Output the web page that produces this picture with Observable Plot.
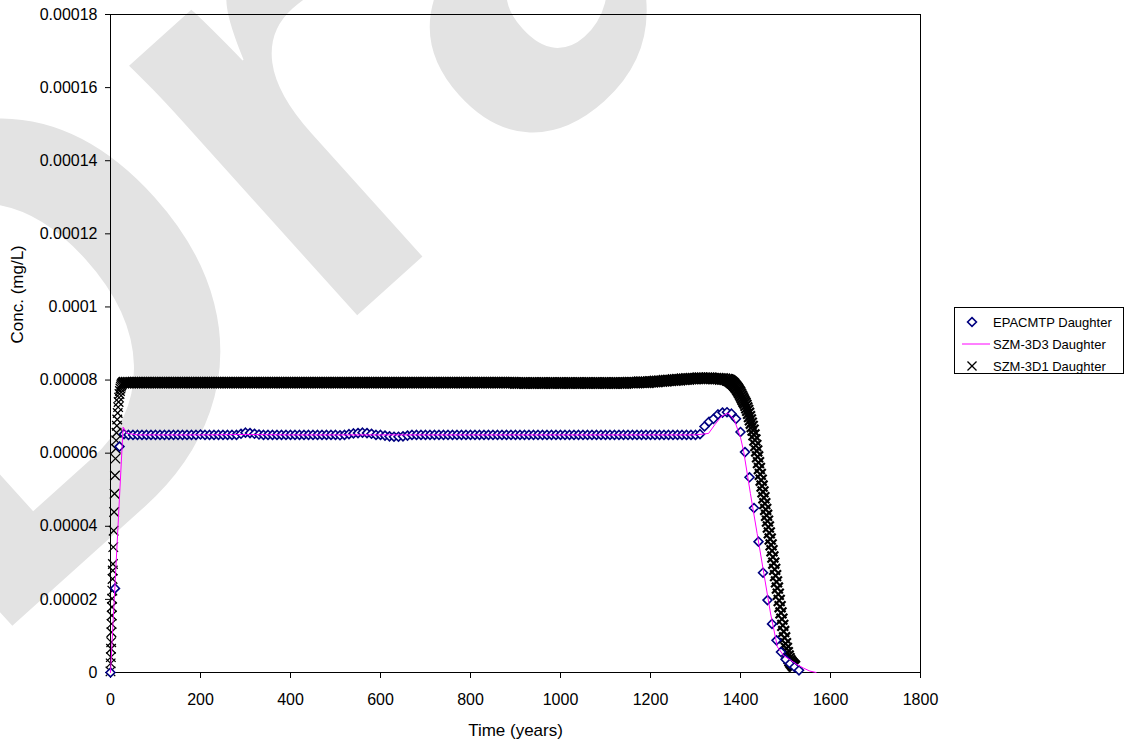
<!DOCTYPE html>
<html>
<head>
<meta charset="utf-8">
<script src="https://cdn.jsdelivr.net/npm/d3@7"></script>
<script src="https://cdn.jsdelivr.net/npm/@observablehq/plot@0.6"></script>
<style>
  html, body { margin: 0; padding: 0; background: #fff; }
  #wrap { position: relative; width: 1127px; height: 742px; }
  #legend { position: absolute; left: 0; top: 0; }
</style>
</head>
<body>
<div id="wrap"></div>
<script>
// Concentrations are kept in units of 1e-6 mg/L and converted when the table is built.

// EPACMTP Daughter: model output every 10 years starting at year 0
const epaStart = 0, epaStep = 10;
const epaConc = [
  0, 23.0, 61.8, 65.2,
  65.0, 65.0, 65.0, 65.0, 65.0, 65.0, 65.0, 65.0, 65.0, 65.0, 65.0, 65.0, 65.0, 65.0, 65.0, 65.0,
  65.1,
  65.0, 65.0, 65.0, 65.0, 65.0, 65.0, 65.0, 65.0,
  65.3, 65.6, 65.5, 65.3, 65.1,
  65.0, 65.0, 65.0, 65.0, 65.0, 65.0, 65.0, 65.0, 65.0, 65.0, 65.0, 65.0, 65.0, 65.0, 65.0, 65.0, 65.0,
  64.9, 65.0, 65.2, 65.4, 65.5, 65.6, 65.5, 65.3,
  65.0, 65.0, 64.8, 64.6, 64.5, 64.5, 64.6, 64.8, 65.0,
  65.0, 65.0, 65.0, 65.0, 65.0, 65.0, 65.0, 65.0, 65.0, 65.0, 65.0, 65.0, 65.0, 65.0, 65.0, 65.0,
  65.0, 65.0, 65.0, 65.0, 65.0, 65.0, 65.0, 65.0, 65.0, 65.0, 65.0, 65.0, 65.0, 65.0, 65.0, 65.0,
  65.0, 65.0, 65.0, 65.0, 65.0, 65.0, 65.0, 65.0, 65.0, 65.0, 65.0, 65.0, 65.0, 65.0, 65.0, 65.0,
  65.0, 65.0, 65.0, 65.0, 65.0, 65.0, 65.0, 65.0, 65.0, 65.0, 65.0, 65.0, 65.0, 65.0, 65.0,
  65.2, 67.3, 68.6, 69.4, 70.6, 71.1, 71.2, 70.8, 69.4, 65.8, 60.3, 53.4,
  45.0, 35.8, 27.3, 19.8, 13.3, 8.8, 5.6, 3.6, 2.4, 1.5, 0.6
];

// SZM-3D3 Daughter: line through the reported output times
const szm3Time = [0, 28, 37, 60, 100, 200, 300, 400, 500, 600, 700, 800, 900, 1000, 1100, 1200, 1300,
  1329, 1343, 1357, 1372, 1386, 1400, 1407, 1422, 1437, 1452, 1467, 1482, 1496, 1511, 1525, 1540, 1554, 1568];
const szm3Conc = [0, 67.1, 65.4, 65.0, 65.0, 65.0, 65.1, 65.0, 65.0, 65.0, 65.0, 65.0, 65.0, 65.0, 65.0, 65.0, 65.0,
  65.4, 67.8, 70.0, 71.0, 69.2, 64.3, 60.5, 49.0, 38.0, 27.0, 16.0, 7.0, 4.6, 3.4, 2.2, 1.2, 0.4, 0];

// SZM-3D1 Daughter: early breakthrough (fine time steps)
const szm1RiseTime = [0, 0.4, 0.8, 1.2, 1.6, 2.0, 2.4, 2.8, 3.2, 3.6, 4.0, 4.6, 5.0, 5.4, 6.2, 7.0, 8.0, 9.0, 10.0,
  11.0, 11.8, 12.6, 13.4, 14.2, 15.0, 16.0, 17.0, 18.0, 19.0, 20.0, 21.0, 22.0, 23.0, 24.0, 25.0, 26.0, 27.0];
const szm1RiseConc = [0.3, 2.5, 4.2, 6.5, 8.3, 11.0, 13.3, 15.6, 17.9, 20.2, 22.4, 25.6, 27.9, 29.7, 34.3, 38.8, 43.9, 48.9, 53.9,
  58.5, 61.2, 63.5, 65.6, 67.5, 69.2, 71.0, 72.6, 74.0, 75.2, 76.2, 77.0, 77.7, 78.2, 78.6, 78.9, 79.1, 79.2];

// SZM-3D1 Daughter: plateau, output every 5 years from year 30 to 1370
const szm1FlatStart = 30, szm1FlatStep = 5;
const szm1FlatConc = [
  79.3, 79.3, 79.3, 79.3, 79.3, 79.3, 79.3, 79.3, 79.3, 79.3, 79.3, 79.3, 79.3, 79.3, 79.3, 79.3, 79.3, 79.3, 79.3, 79.3,
  79.3, 79.3, 79.3, 79.3, 79.3, 79.3, 79.3, 79.3, 79.3, 79.3, 79.3, 79.3, 79.3, 79.3, 79.3, 79.3, 79.3, 79.3, 79.3, 79.3,
  79.3, 79.3, 79.3, 79.3, 79.3, 79.3, 79.3, 79.3, 79.3, 79.3, 79.3, 79.3, 79.3, 79.3, 79.3, 79.3, 79.3, 79.3, 79.3, 79.3,
  79.3, 79.3, 79.3, 79.3, 79.3, 79.3, 79.3, 79.3, 79.3, 79.3, 79.3, 79.3, 79.3, 79.3, 79.3, 79.3, 79.3, 79.3, 79.3, 79.3,
  79.3, 79.3, 79.3, 79.3, 79.3, 79.3, 79.3, 79.3, 79.3, 79.3, 79.3, 79.3, 79.3, 79.3, 79.3, 79.3, 79.3, 79.3, 79.3, 79.3,
  79.3, 79.3, 79.3, 79.3, 79.3, 79.3, 79.3, 79.3, 79.3, 79.3, 79.3, 79.3, 79.3, 79.3, 79.3, 79.3, 79.3, 79.3, 79.3, 79.3,
  79.3, 79.3, 79.3, 79.3, 79.3, 79.3, 79.3, 79.3, 79.3, 79.3, 79.3, 79.3, 79.3, 79.3, 79.3, 79.3, 79.3, 79.3, 79.3, 79.3,
  79.3, 79.3, 79.3, 79.3, 79.3, 79.3, 79.3, 79.3, 79.3, 79.3, 79.3, 79.3, 79.3, 79.3, 79.3, 79.3, 79.3, 79.3, 79.3, 79.3,
  79.3, 79.3, 79.3, 79.3, 79.3, 79.3, 79.3, 79.3, 79.3, 79.3, 79.3, 79.3, 79.3, 79.3,
  79.2, 79.2, 79.2, 79.2, 79.2, 79.2, 79.2, 79.2, 79.2, 79.2, 79.2, 79.2, 79.2, 79.2, 79.2, 79.2, 79.2, 79.2, 79.2, 79.2,
  79.2, 79.2, 79.2, 79.2, 79.2, 79.2, 79.2, 79.2, 79.2, 79.2, 79.2, 79.2, 79.2, 79.2, 79.2, 79.2, 79.2, 79.2, 79.2, 79.2,
  79.2, 79.2, 79.2, 79.2, 79.2, 79.2, 79.2, 79.2, 79.2, 79.2,
  79.3, 79.3, 79.3, 79.3, 79.3, 79.4, 79.4, 79.4, 79.4, 79.4,
  79.5, 79.5, 79.6, 79.6, 79.7, 79.7, 79.8, 79.8, 79.9, 79.9, 80.0, 80.0, 80.1, 80.1, 80.2, 80.2, 80.3, 80.3,
  80.4, 80.4, 80.4, 80.5, 80.5, 80.5, 80.5, 80.5, 80.5, 80.5, 80.4, 80.4, 80.4, 80.3, 80.3, 80.2, 80.1
];

// SZM-3D1 Daughter: decline, output every 2 years
const szm1FallTime = [1372, 1374, 1376, 1378, 1380, 1382, 1384, 1386, 1388, 1390, 1392, 1394, 1396, 1398, 1400,
  1402, 1404, 1406, 1408, 1410, 1412, 1414, 1416, 1418, 1420, 1422, 1424, 1426, 1428, 1430, 1432, 1434, 1436,
  1438, 1440, 1442, 1444, 1446, 1448, 1450, 1452, 1454, 1456, 1458, 1460, 1462, 1464, 1466, 1468, 1470, 1472,
  1474, 1476, 1478, 1480, 1482, 1484, 1486, 1488, 1490, 1492, 1494, 1496, 1498, 1500, 1502, 1504, 1506, 1508,
  1510, 1512, 1514, 1516, 1518, 1520];
const szm1FallConc = [80.0, 79.9, 79.8, 79.6, 79.4, 79.2, 79.0, 78.7, 78.4, 78.1, 77.8, 77.4, 77.0, 76.6, 76.1,
  75.6, 75.1, 74.6, 74.1, 73.7, 73.1, 72.4, 71.7, 70.9, 70.0, 69.1, 68.2, 67.3, 66.3, 65.0, 63.6, 62.1, 60.6,
  59.0, 57.4, 55.8, 54.2, 52.6, 51.0, 49.4, 47.8, 46.2, 44.6, 43.0, 41.4, 39.8, 38.2, 36.5, 34.9, 33.3, 31.6,
  29.9, 28.2, 26.5, 24.8, 23.1, 21.4, 19.7, 18.0, 16.3, 14.6, 12.9, 11.2, 9.5, 7.9, 6.6, 5.4, 4.5, 3.8,
  3.2, 2.8, 2.5, 2.2, 1.9, 1.7];

// Axes
const xTicks = [0, 200, 400, 600, 800, 1000, 1200, 1400, 1600, 1800];
const yTicks = [0, 0.00002, 0.00004, 0.00006, 0.00008, 0.0001, 0.00012, 0.00014, 0.00016, 0.00018];
const yTickLabels = ["0", "0.00002", "0.00004", "0.00006", "0.00008", "0.0001", "0.00012", "0.00014", "0.00016", "0.00018"];

const seriesNames = ["EPACMTP Daughter", "SZM-3D3 Daughter", "SZM-3D1 Daughter"];
const navy = "#000080", magenta = "#ff00ff", black = "#000000";
const font = "'Liberation Sans', Arial, Helvetica, sans-serif";

// Tables
const unit = 1e-6;
const epa = epaConc.map((c, i) => ({t: epaStart + i * epaStep, c: c * unit}));
const szm3 = szm3Time.map((t, i) => ({t, c: szm3Conc[i] * unit}));
const szm1Rise = szm1RiseTime.map((t, i) => ({t, c: szm1RiseConc[i] * unit}));
const szm1Band = [
  ...szm1FlatConc.map((c, i) => ({t: szm1FlatStart + i * szm1FlatStep, c: c * unit})),
  ...szm1FallTime.map((t, i) => ({t, c: szm1FallConc[i] * unit}))
];

const chart = Plot.plot({
  width: 1127,
  height: 742,
  marginLeft: 110,
  marginRight: 207,
  marginTop: 14,
  marginBottom: 70,
  style: {fontFamily: font, fontSize: "16px", color: "#000", background: "transparent"},
  x: {domain: [0, 1800]},
  y: {domain: [0, 0.00018]},
  marks: [
    // "Draft" watermark behind the data
    Plot.text(["Draft"], {
      frameAnchor: "top-left", dx: -130, dy: 640, rotate: -42,
      text: d => d, fontSize: 640, fontWeight: "bold", fill: "#e3e3e3",
      textAnchor: "start", lineAnchor: "bottom"
    }),
    Plot.frame({stroke: black, strokeWidth: 1}),
    Plot.axisX({ticks: xTicks, tickSize: 6, tickPadding: 15, tickFormat: d => String(d), label: null, stroke: black}),
    Plot.axisY({ticks: yTicks, tickSize: 5, tickPadding: 8, tickFormat: (d, i) => yTickLabels[i], label: null, stroke: black}),
    Plot.text(["Time (years)"], {frameAnchor: "bottom", dy: 63, text: d => d, lineAnchor: "bottom", fontSize: 17, fill: black}),
    Plot.text(["Conc. (mg/L)"], {
      frameAnchor: "left", dx: -88, rotate: -90, text: d => d, lineAnchor: "bottom", fontSize: 17,
      fill: black, stroke: "white", strokeWidth: 7
    }),
    Plot.dot(szm1Rise, {x: "t", y: "c", symbol: "times", r: 4.4, stroke: black, strokeWidth: 1.3}),
    Plot.dot(szm1Band, {x: "t", y: "c", symbol: "times", r: 5, stroke: black, strokeWidth: 2.2}),
    Plot.dot(epa, {x: "t", y: "c", symbol: "diamond2", r: 4, stroke: navy, fill: "white", strokeWidth: 1.6}),
    Plot.line(szm3, {x: "t", y: "c", stroke: magenta, strokeWidth: 1})
  ]
});

const wrap = document.getElementById("wrap");
wrap.appendChild(chart);

// Legend box on the right
const legend = d3.create("svg")
  .attr("id", "legend")
  .attr("width", 1127).attr("height", 742)
  .style("font-family", font);
const lg = legend.append("g");
lg.append("rect").attr("x", 954.5).attr("y", 307.5).attr("width", 169).attr("height", 66)
  .attr("fill", "white").attr("stroke", black).attr("stroke-width", 1);
const rowsY = [322, 344, 366];
lg.append("path").attr("d", d3.symbol(d3.symbolDiamond2, 50)())
  .attr("transform", `translate(972,${rowsY[0]})`)
  .attr("fill", "white").attr("stroke", navy).attr("stroke-width", 1.6);
lg.append("line").attr("x1", 962).attr("x2", 990).attr("y1", rowsY[1]).attr("y2", rowsY[1])
  .attr("stroke", magenta).attr("stroke-width", 1);
lg.append("path").attr("d", d3.symbol(d3.symbolTimes, 55)())
  .attr("transform", `translate(972,${rowsY[2]})`)
  .attr("fill", "none").attr("stroke", black).attr("stroke-width", 1.3);
seriesNames.forEach((name, i) => {
  lg.append("text").attr("x", 993).attr("y", rowsY[i]).attr("dy", "0.35em")
    .attr("font-size", 13).attr("fill", black).text(name);
});
wrap.appendChild(legend.node());
</script>
</body>
</html>
